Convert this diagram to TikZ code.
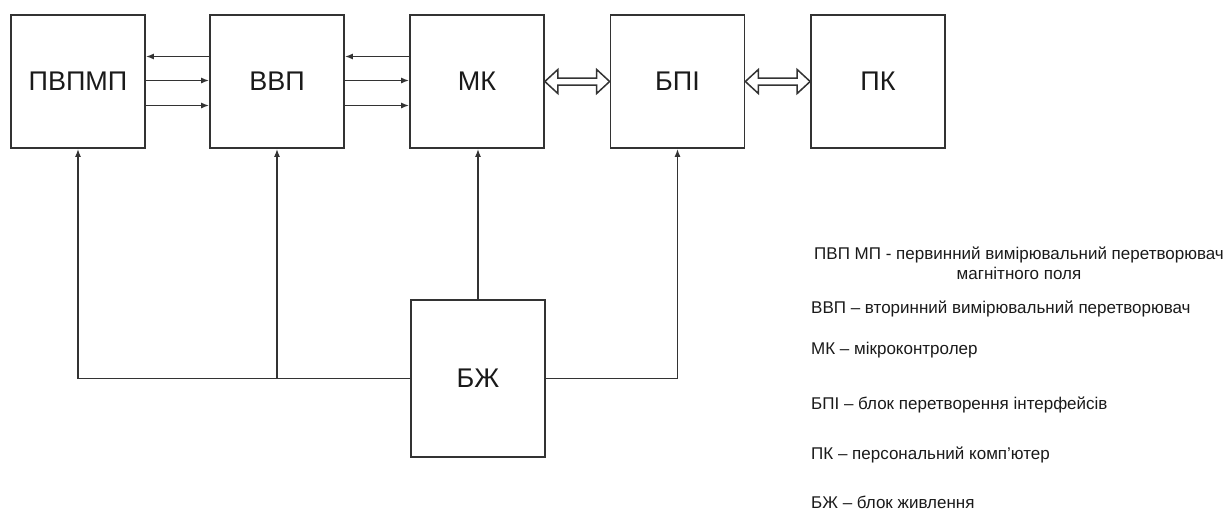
\documentclass[tikz,border=0pt]{standalone}
\usepackage{fontspec}
\setmainfont{Liberation Sans}
\usetikzlibrary{arrows.meta,calc}
\definecolor{ln}{HTML}{333333}
\definecolor{tx}{HTML}{1A1A1A}
\tikzset{
  blk/.style={draw=ln, line width=1.7pt, minimum width=134pt, minimum height=133pt, inner sep=0pt, text=tx, font=\fontsize{27}{30}\selectfont},
  arr/.style={draw=ln, line width=1.5pt, -{Latex[length=8pt,width=6pt]}},
  dbl/.style={draw=ln, line width=1.5pt, fill=white},
  legf/.style={font=\fontsize{17}{20}\selectfont, text=tx, inner sep=0pt},
  leg/.style={legf, anchor=west}
}
\newcommand{\dblarr}[2]{%
  \draw[dbl] (#1.east) -- ++(13,-12) -- ++(0,8.5) -- ($(#2.west)+(-13,-3.5)$) -- ++(0,-8.5) -- (#2.west)
    -- ++(-13,12) -- ++(0,-8.5) -- ($(#1.east)+(13,3.5)$) -- ++(0,8.5) -- cycle;}
\begin{document}
\begin{tikzpicture}[x=1pt,y=-1pt]
\useasboundingbox (0,0) rectangle (1231,512);
\node[blk] (p1) at (78,81.5) {ПВПМП};
\node[blk] (vvp) at (277,81.5) {ВВП};
\node[blk] (mk) at (477,81.5) {МК};
\node[blk] (bpi) at (677.5,81.5) {БПІ};
\node[blk] (pk) at (878,81.5) {ПК};
\node[blk, minimum height=157pt] (bz) at (478,378.5) {БЖ};
% signal arrows
\draw[arr] ([yshift=25pt]vvp.west) -- ([yshift=25pt]p1.east);
\draw[arr] ([yshift=1pt]p1.east) -- ([yshift=1pt]vvp.west);
\draw[arr] ([yshift=-24pt]p1.east) -- ([yshift=-24pt]vvp.west);
\draw[arr] ([yshift=25pt]mk.west) -- ([yshift=25pt]vvp.east);
\draw[arr] ([yshift=1pt]vvp.east) -- ([yshift=1pt]mk.west);
\draw[arr] ([yshift=-24pt]vvp.east) -- ([yshift=-24pt]mk.west);
% double arrows
\dblarr{mk}{bpi}
\dblarr{bpi}{pk}
% power lines
\draw[arr] (bz.west) -| (p1.south);
\draw[arr] (bz.west -| vvp.south) -- (vvp.south);
\draw[arr] (bz.north) -- (bz.north |- mk.south);
\draw[arr] (bz.east) -| (bpi.south);
% legend
\node[legf, align=center] (l1) at (1019,263) {ПВП МП - первинний вимірювальний перетворювач\\магнітного поля};
\node[leg] (l2) at (811,309) {ВВП – вторинний вимірювальний перетворювач};
\node[leg] (l3) at (811,350) {МК – мікроконтролер};
\node[leg] (l4) at (811,405) {БПІ – блок перетворення інтерфейсів};
\node[leg] (l5) at (811,455) {ПК – персональний комп'ютер};
\node[leg] (l6) at (811,502) {БЖ – блок живлення};
\end{tikzpicture}
\end{document}
